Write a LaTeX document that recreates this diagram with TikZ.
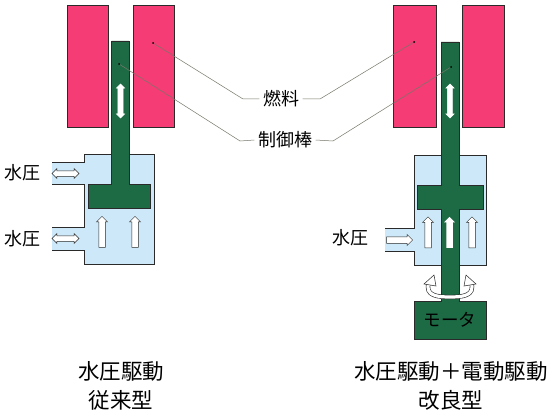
\documentclass[tikz,border=0pt]{standalone}
\usepackage{fontspec}
\setmainfont{Noto Sans CJK JP}
\usetikzlibrary{arrows.meta,positioning,shapes.arrows,calc}
\definecolor{fuelpink}{HTML}{F53C74}
\definecolor{rodgreen}{HTML}{1D6B45}
\definecolor{waterblue}{HTML}{CDE9F9}
\definecolor{edgedark}{HTML}{2A2A2A}
\definecolor{leadgray}{HTML}{77776A}

\begin{document}
\begin{tikzpicture}[x=1pt,y=-1pt,
  fuelblock/.style={draw=edgedark,fill=fuelpink,line width=.8pt,minimum width=41pt,minimum height=122pt,inner sep=0pt},
  rodpart/.style={draw=edgedark,fill=rodgreen,line width=.7pt},
  casing/.style={draw=edgedark,line width=.8pt},
  upflow/.style={single arrow,draw=edgedark,fill=white,line width=.5pt,rotate=90,inner xsep=0pt,inner ysep=3pt,minimum height=31pt,single arrow head extend=2.2pt,single arrow head indent=0pt},
  sideflow/.style={double arrow,draw=edgedark,fill=white,line width=.5pt,inner xsep=0pt,inner ysep=2.5pt,minimum height=27pt,double arrow head extend=2.2pt},
  moveflow/.style={double arrow,fill=white,draw=white,rotate=90,inner xsep=0pt,inner ysep=2.5pt,minimum height=34pt,double arrow head extend=1.5pt},
  lead/.style={draw=leadgray,line width=.5pt},
  pin/.style={circle,fill=black,inner sep=0pt,minimum size=2pt},
  lbl/.style={font=\fontsize{18}{20}\selectfont},
  caption/.style={font=\fontsize{21.5}{28.5}\selectfont,align=center}]
\useasboundingbox (0,0) rectangle (552,412);
\fill[white] (0,0) rectangle (552,412);

% left unit
\node[fuelblock] (fuelLL) at (87.5,66) {};
\node[fuelblock] (fuelLR) at (153.5,66) {};
\fill[waterblue] (52,162) -- (84,162) -- (84,154) -- (154,154) -- (154,264) -- (84,264)
  -- (84,250) -- (52,250) -- (52,227) -- (84,227) -- (84,184) -- (52,184) -- cycle;
\draw[casing] (52,162) -- (84,162) -- (84,154) -- (154,154) -- (154,264) -- (84,264) -- (84,250) -- (52,250);
\draw[casing] (52,227) -- (84,227) -- (84,184) -- (52,184);
\draw[rodpart] (111.5,41) -- (129,41) -- (129,184) -- (150,184) -- (150,208) -- (88,208) -- (88,184) -- (111.5,184) -- cycle;
\node[moveflow] (moveL) at (120.5,101) {};
\node[sideflow] (portL1) at (65.5,173.5) {};
\node[sideflow] (portL2) at (65.5,238.5) {};
\node[upflow] (upL1) at (102,233.5) {};
\node[upflow] (upL2) at (135,233.5) {};
\node[lbl] (waterL1) at (23,173) {水圧};
\node[lbl] (waterL2) at (23,239) {水圧};

% right unit
\node[fuelblock,minimum width=43pt] (fuelRL) at (414.5,66.5) {};
\node[fuelblock,minimum width=42pt] (fuelRR) at (483,66.5) {};
\fill[waterblue] (385,228) -- (414,228) -- (414,155) -- (486,155) -- (486,265) -- (414,265)
  -- (414,251) -- (385,251) -- cycle;
\draw[casing] (385,228) -- (414,228) -- (414,155) -- (486,155) -- (486,265) -- (414,265) -- (414,251) -- (385,251);
\draw[rodpart] (441,42) -- (459,42) -- (459,185) -- (483,185) -- (483,209) -- (459,209) -- (459,301) -- (486,301)
  -- (486,339) -- (414,339) -- (414,301) -- (441,301) -- (441,209) -- (417,209) -- (417,185) -- (441,185) -- cycle;
\node[moveflow] (moveR) at (450,101) {};
\node[upflow,rotate=-90,minimum height=26pt] (portR) at (398,240) {};
\node[upflow] (upR1) at (428,234) {};
\node[upflow,draw=none] (upR2) at (449.5,234) {};
\node[upflow] (upR3) at (472,234) {};
\node[lbl] (waterR) at (350,238) {水圧};
\node[font=\fontsize{17.5}{20}\selectfont,text=black] (motor) at (450,319.5) {モータ};

% turning arrow
\draw[edgedark,line width=.6pt,double=white,double distance=3.2pt] (429,282) .. controls (424,296) and (438,297) .. (450,297) .. controls (462,297) and (476,296) .. (471,282);
\filldraw[fill=white,draw=edgedark,line width=.5pt] (424,284) -- (434,275) -- (436,286) -- cycle;
\filldraw[fill=white,draw=edgedark,line width=.5pt] (476,284) -- (466,275) -- (464,286) -- cycle;

% labels and leads
\node[lbl] (fuel) at (281,99) {燃料};
\node[lbl] (rod) at (285,140) {制御棒};
\node[pin] (pinFL) at (153,43) {};
\node[pin] (pinFR) at (414,42) {};
\node[pin] (pinRL) at (119,64) {};
\node[pin] (pinRR) at (451,67) {};
\draw[lead] (pinFL) -- (243,99) -- (fuel.west);
\draw[lead] (pinFR) -- (320,99) -- (fuel.east);
\draw[lead] (pinRL) -- (240,141) -- (rod.west);
\draw[lead] (pinRR) -- (333,141) -- (rod.east);

\node[caption] (capL) at (121,386) {水圧駆動\\従来型};
\node[caption] (capR) at (451,386) {水圧駆動＋電動駆動\\改良型};
\end{tikzpicture}
\end{document}
